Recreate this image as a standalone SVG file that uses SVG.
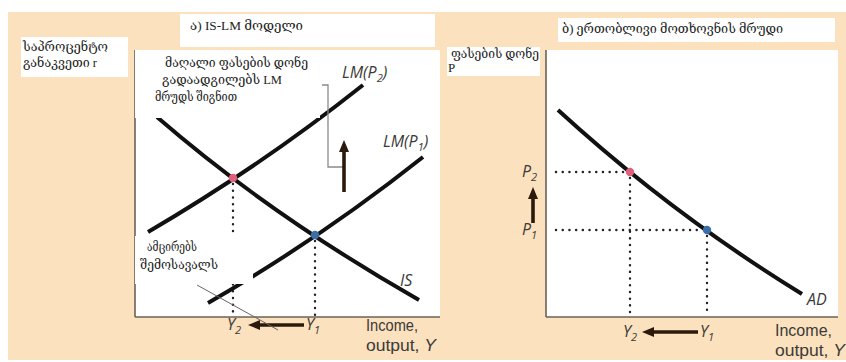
<svg xmlns="http://www.w3.org/2000/svg" width="846" height="362" viewBox="0 0 846 362">
<defs>
<style>
.geo{font-family:"Liberation Serif","DejaVu Serif","DejaVu Sans",serif;font-size:13px;fill:#222}
.lab{font-family:"Open Sans","Liberation Sans",sans-serif;font-size:16px;fill:#3a3a3a}
.ax{font-family:"Liberation Sans","Open Sans",sans-serif;font-size:16px;fill:#3a3a3a}
.it{font-style:italic}
.curve{fill:none;stroke:#111;stroke-width:4;stroke-linecap:butt}
.dots{fill:none;stroke:#222;stroke-width:2.4;stroke-linecap:round;stroke-dasharray:0.1 6.6}
.arr{fill:none;stroke:#2b1a0c;stroke-width:3.6}
.box{fill:#fff}
.axis{stroke:#6b6259;stroke-width:1.6}
.brk{fill:none;stroke:#8a8a8a;stroke-width:1.3}
</style>
<marker id="ah" viewBox="0 0 12 10" refX="4" refY="5" markerWidth="12" markerHeight="10" markerUnits="userSpaceOnUse" orient="auto">
<path d="M0,0 L12,5 L0,10 z" fill="#2b1a0c"/>
</marker>
</defs>
<rect x="0" y="0" width="846" height="362" fill="#fff"/>
<rect x="8" y="12" width="838" height="348" fill="#fbe1bd"/>

<g id="left-panel">
<rect class="box" x="135" y="50" width="305" height="267"/>
<line class="axis" x1="135" y1="50" x2="135" y2="317"/>
<line class="axis" x1="135" y1="317" x2="440" y2="317"/>
</g>
<g id="right-panel">
<rect class="box" x="546" y="50" width="292" height="267"/>
<line class="axis" x1="546" y1="50" x2="546" y2="317"/>
<line class="axis" x1="546" y1="317" x2="838" y2="317"/>
</g>

<g id="connectors">
<line class="dots" x1="233" y1="184" x2="233" y2="316"/>
<line class="dots" x1="315" y1="241" x2="315" y2="316"/>
<path id="IS" class="curve" d="M157,117 Q270,215 419,300"/>
<path id="LM-P2" class="curve" d="M148,232 Q261,166 363,85"/>
<path id="LM-P1" class="curve" d="M208,303 Q321,238 423,157"/>
<path class="brk" d="M322,85 H328 V167 H343"/>
<line class="arr" x1="344" y1="192" x2="344" y2="148" marker-end="url(#ah)"/>
<line class="arr" x1="304" y1="325" x2="256" y2="325" marker-end="url(#ah)"/>
<line x1="197" y1="285" x2="278" y2="330" stroke="#666" stroke-width="1"/>

<line class="dots" x1="556" y1="172" x2="626" y2="172"/>
<line class="dots" x1="556" y1="230" x2="703" y2="230"/>
<line class="dots" x1="630" y1="178" x2="630" y2="316"/>
<line class="dots" x1="707" y1="236" x2="707" y2="316"/>
<path id="AD" class="curve" stroke-width="3.6" d="M558,110 Q671,213.5 802,294"/>
<line class="arr" x1="533" y1="223" x2="533" y2="195" marker-end="url(#ah)"/>
<line class="arr" x1="698" y1="332" x2="650" y2="332" marker-end="url(#ah)"/>
</g>

<g id="eq-points">
<circle cx="233" cy="178" r="4.2" fill="#e0607c"/>
<circle cx="315" cy="235" r="4.2" fill="#3b6ea8"/>
<circle cx="630" cy="172" r="4.2" fill="#e0607c"/>
<circle cx="707" cy="230" r="4.2" fill="#3b6ea8"/>
</g>

<g id="note-shift">
<rect class="box" x="135" y="50" width="185" height="68"/>
<text class="geo" x="165" y="67" textLength="143" lengthAdjust="spacingAndGlyphs">მაღალი ფასების დონე</text>
<text class="geo" x="162" y="84" textLength="120" lengthAdjust="spacingAndGlyphs">გადაადგილებს LM</text>
<text class="geo" x="155" y="101" textLength="82" lengthAdjust="spacingAndGlyphs">მრუდს შიგნით</text>
</g>
<g id="note-income">
<rect class="box" x="135" y="236" width="118" height="48"/>
<text class="geo" x="147" y="251" textLength="50" lengthAdjust="spacingAndGlyphs">ამცირებს</text>
<text class="geo" x="140" y="269" textLength="78" lengthAdjust="spacingAndGlyphs">შემოსავალს</text>
</g>
<g id="title-left">
<rect class="box" x="180" y="14" width="255" height="33"/>
<text class="geo" x="190" y="30" textLength="113" lengthAdjust="spacingAndGlyphs">ა) IS-LM მოდელი</text>
</g>
<g id="axis-r">
<rect class="box" x="21" y="37" width="107" height="40"/>
<text class="geo" x="23" y="51" textLength="85" lengthAdjust="spacingAndGlyphs">საპროცენტო</text>
<text class="geo" x="23" y="67" textLength="74" lengthAdjust="spacingAndGlyphs">განაკვეთი r</text>
</g>
<g id="title-right">
<rect class="box" x="558" y="18" width="277" height="24"/>
<text class="geo" x="562" y="33" textLength="221" lengthAdjust="spacingAndGlyphs">ბ) ერთობლივი მოთხოვნის მრუდი</text>
</g>
<g id="axis-P">
<rect class="box" x="447" y="47" width="93" height="29"/>
<text class="geo" x="451" y="58" textLength="88" lengthAdjust="spacingAndGlyphs">ფასების დონე</text>
<text class="geo" x="448" y="72">P</text>
</g>

<g id="curve-labels">
<text class="lab it" x="342" y="78">LM(P<tspan font-size="11" dy="4">2</tspan><tspan dy="-4">)</tspan></text>
<text class="lab it" x="383" y="147">LM(P<tspan font-size="11" dy="4">1</tspan><tspan dy="-4">)</tspan></text>
<text class="lab it" x="400" y="286">IS</text>
<text class="lab it" x="807" y="305">AD</text>
</g>
<g id="axis-labels">
<text class="lab it" x="227" y="330">Y<tspan font-size="11" dy="4">2</tspan></text>
<text class="lab it" x="306" y="330">Y<tspan font-size="11" dy="4">1</tspan></text>
<text class="ax" x="366" y="331" textLength="52" lengthAdjust="spacingAndGlyphs">Income,</text>
<text class="ax" x="366" y="351" textLength="70" lengthAdjust="spacingAndGlyphs">output, <tspan class="it">Y</tspan></text>
<text class="lab it" x="623" y="337">Y<tspan font-size="11" dy="4">2</tspan></text>
<text class="lab it" x="700" y="337">Y<tspan font-size="11" dy="4">1</tspan></text>
<text class="ax" x="775" y="336" textLength="57" lengthAdjust="spacingAndGlyphs">Income,</text>
<text class="ax" x="775" y="356" textLength="70" lengthAdjust="spacingAndGlyphs">output, <tspan class="it">Y</tspan></text>
<text class="lab it" x="522" y="177">P<tspan font-size="11" dy="4">2</tspan></text>
<text class="lab it" x="522" y="235">P<tspan font-size="11" dy="4">1</tspan></text>
</g>
</svg>
